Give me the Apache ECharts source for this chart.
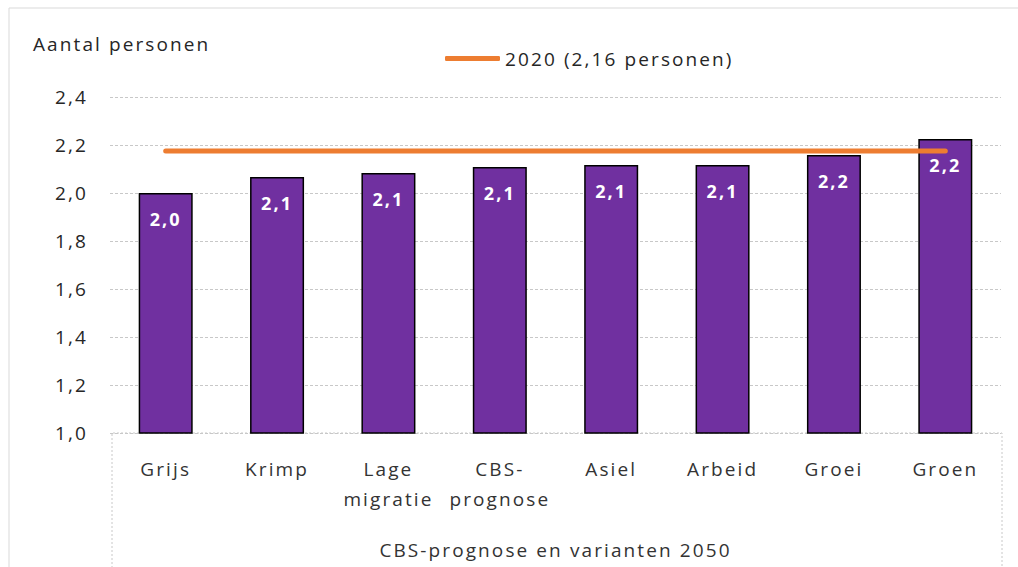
<!DOCTYPE html>
<html>
<head>
<meta charset="utf-8">
<script src="https://cdn.jsdelivr.net/npm/echarts@6/dist/echarts.min.js"></script>
<style>
  html, body { margin: 0; padding: 0; background: #ffffff; }
  #chart { width: 1018px; height: 567px; }
  /* breder loopende tekst zoals in het origineel */
  #chart text { letter-spacing: 2.1px; }
</style>
</head>
<body>
<div id="chart"></div>
<script>
const categories = ["Grijs", "Krimp", "Lage\nmigratie", "CBS-\nprognose", "Asiel", "Arbeid", "Groei", "Groen"];
const personen2050 = [2.0, 2.067, 2.083, 2.108, 2.117, 2.117, 2.158, 2.225];
const lijn2020 = [2.175, 2.175, 2.175, 2.175, 2.175, 2.175, 2.175, 2.175];
const yTicks = [1.0, 1.2, 1.4, 1.6, 1.8, 2.0, 2.2, 2.4];

const fontFam = "'Open Sans', sans-serif";
const komma = (v) => v.toFixed(1).replace(".", ",");

const option = {
  animation: false,
  textStyle: { fontFamily: fontFam },
  grid: { left: 110, right: 17, top: 97, bottom: 134 },
  legend: {
    data: [{ name: "2020 (2,16 personen)", icon: "roundRect" }],
    left: 440,
    top: 44,
    itemWidth: 55,
    itemHeight: 5,
    itemGap: 2,
    textStyle: { fontSize: 19, color: "#262626", fontFamily: fontFam },
  },
  graphic: [
    {
      type: "rect",
      shape: { x: 9, y: 8, width: 1020, height: 580 },
      style: { fill: "none", stroke: "#d9d9d9", lineWidth: 1 },
      silent: true,
    },
    {
      type: "text",
      left: 33,
      top: 34,
      style: { text: "Aantal personen", fontSize: 19, fill: "#262626", fontFamily: fontFam },
    },
    {
      type: "polyline",
      shape: { points: [[112, 600], [112, 433], [1002, 433], [1002, 600]] },
      style: { fill: "none", stroke: "#c8c8c8", lineWidth: 1, lineDash: [2, 2] },
      silent: true,
    },
  ],
  xAxis: {
    type: "category",
    data: categories,
    axisLine: { show: false },
    axisTick: { show: false },
    axisLabel: {
      margin: 21,
      fontSize: 19,
      color: "#333333",
      lineHeight: 30,
      interval: 0,
    },
    name: "CBS-prognose en varianten 2050",
    nameLocation: "middle",
    nameGap: 107,
    nameTextStyle: { fontSize: 19, color: "#333333" },
  },
  yAxis: {
    type: "value",
    min: 1.0,
    max: 2.4,
    interval: 0.2,
    axisLine: { show: false },
    axisTick: { show: false },
    axisLabel: {
      fontSize: 19,
      color: "#262626",
      margin: 22,
      formatter: (v) => (yTicks.some((t) => Math.abs(t - v) < 1e-6) ? komma(v) : ""),
    },
    splitLine: { lineStyle: { color: "#c8c8c8", type: [3, 2], width: 1 } },
  },
  series: [
    {
      name: "2050",
      type: "bar",
      data: personen2050,
      barWidth: 54,
      itemStyle: { color: "#7030A0", borderColor: "#000000", borderWidth: 1.5 },
      label: {
        show: true,
        position: "insideTop",
        distance: 17,
        color: "#ffffff",
        fontWeight: "bold",
        fontSize: 18,
        formatter: (p) => komma(p.value),
      },
      z: 2,
    },
    {
      name: "2020 (2,16 personen)",
      type: "line",
      data: lijn2020,
      symbol: "none",
      color: "#ED7D31",
      lineStyle: { color: "#ED7D31", width: 5, cap: "round" },
      z: 3,
    },
  ],
};

const myChart = echarts.init(document.getElementById("chart"), null, { renderer: "svg" });
myChart.setOption(option);
</script>
</body>
</html>
